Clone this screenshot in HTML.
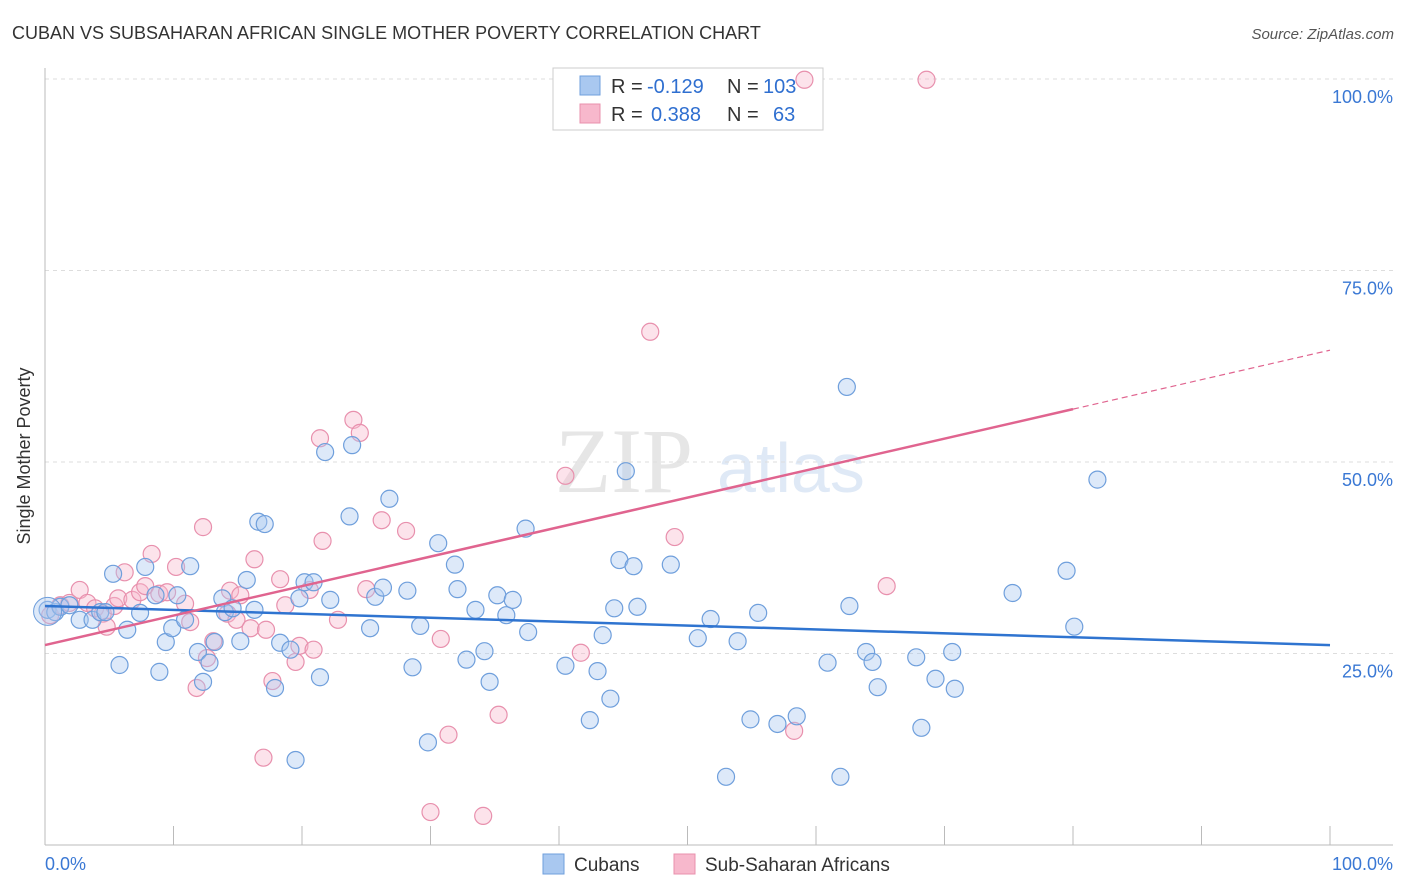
<!DOCTYPE html>
<html><head><meta charset="utf-8"><style>
body{margin:0;background:#fff;font-family:"Liberation Sans",sans-serif;}
svg{display:block}
</style></head><body>
<svg id="chart" width="1406" height="892">
<text x="12" y="39" font-size="18" fill="#333">CUBAN VS SUBSAHARAN AFRICAN SINGLE MOTHER POVERTY CORRELATION CHART</text>
<text x="1394" y="39" font-size="15" fill="#555" font-style="italic" text-anchor="end">Source: ZipAtlas.com</text>
<text x="30" y="456" font-size="18" fill="#333" text-anchor="middle" transform="rotate(-90 30 456)">Single Mother Poverty</text>
<g><text x="555" y="492" font-size="92" fill="#e6e6e6" font-family="Liberation Serif,serif">ZIP</text><text x="717" y="492" font-size="70" fill="#dfe9f6">atlas</text></g>
<g id="grid"></g><g id="axes"></g>
<g>
<rect x="553" y="68" width="270" height="62" fill="#fff" stroke="#ccc"/>
<rect x="580" y="76" width="20" height="19" fill="#a9c8f0" stroke="#6f9fdc"/>
<rect x="580" y="104" width="20" height="19" fill="#f7b8cc" stroke="#e890ad"/>
<text x="611" y="93" font-size="20" fill="#333">R =</text>
<text x="647" y="93" font-size="20" fill="#2f6fd0">-0.129</text>
<text x="727" y="93" font-size="20" fill="#333">N =</text>
<text x="763" y="93" font-size="20" fill="#2f6fd0">103</text>
<text x="611" y="121" font-size="20" fill="#333">R =</text>
<text x="651" y="121" font-size="20" fill="#2f6fd0">0.388</text>
<text x="727" y="121" font-size="20" fill="#333">N =</text>
<text x="773" y="121" font-size="20" fill="#2f6fd0">63</text>
</g>
<g id="pts"></g><g id="lines"></g>
<g>
<rect x="543" y="854" width="21" height="20" fill="#a9c8f0" stroke="#6f9fdc"/>
<text x="574" y="871" font-size="19" fill="#333">Cubans</text>
<rect x="674" y="854" width="21" height="20" fill="#f7b8cc" stroke="#e890ad"/>
<text x="705" y="871" font-size="19" fill="#333">Sub-Saharan Africans</text>
</g>
</svg>
<script>
const yTicks=[25,50,75,100];
const yTickLabels=["25.0%","50.0%","75.0%","100.0%"];
const blueX=[0.2,0.8,1.2,1.9,2.7,3.7,4.3,4.7,5.3,5.8,6.4,7.4,7.8,8.6,8.9,9.4,9.9,10.3,10.9,11.3,11.9,12.3,12.8,13.2,13.8,14.0,14.6,15.2,15.7,16.3,16.6,17.1,17.9,18.3,19.1,19.5,19.8,20.2,20.9,21.4,21.8,22.2,23.7,23.9,25.3,25.7,26.3,26.8,28.2,28.6,29.2,29.8,30.6,31.9,32.1,32.8,33.5,34.2,34.6,35.2,35.9,36.4,37.4,37.6,40.5,42.4,43.0,43.4,44.0,44.3,44.7,45.2,45.8,46.1,48.7,50.8,51.8,53.0,53.9,54.9,55.5,57.0,58.5,60.9,61.9,62.4,62.6,63.9,64.4,64.8,67.8,68.2,69.3,70.6,70.8,75.3,79.5,80.1,81.9];
const blueY=[30.7,30.4,31.1,31.3,29.4,29.4,30.4,30.4,35.4,23.5,28.1,30.3,36.3,32.6,22.6,26.5,28.3,32.6,29.4,36.4,25.2,21.3,23.8,26.5,32.2,30.4,30.9,26.6,34.6,30.7,42.2,41.9,20.5,26.4,25.5,11.1,32.2,34.3,34.3,21.9,51.3,32.0,42.9,52.2,28.3,32.4,33.6,45.2,33.2,23.2,28.6,13.4,39.4,36.6,33.4,24.2,30.7,25.3,21.3,32.6,30.0,32.0,41.3,27.8,23.4,16.3,22.7,27.4,19.1,30.9,37.2,48.8,36.4,31.1,36.6,27.0,29.5,8.9,26.6,16.4,30.3,15.8,16.8,23.8,8.9,59.8,31.2,25.2,23.9,20.6,24.5,15.3,21.7,25.2,20.4,32.9,35.8,28.5,47.7];
const pinkX=[0.4,1.2,1.9,2.7,3.3,3.9,4.5,4.8,5.4,5.7,6.2,6.8,7.4,7.8,8.3,8.9,9.5,10.2,10.9,11.3,11.8,12.3,12.6,13.1,14.2,14.4,14.9,15.2,16.0,16.3,17.2,17.7,18.3,18.7,19.5,19.8,20.6,20.9,21.4,21.6,22.8,24.0,24.5,25.0,26.2,28.1,30.0,30.8,31.4,34.1,35.3,40.5,41.7,47.1,49.0,58.3,59.1,65.5,68.6,17.0];
const pinkY=[30.0,31.3,31.6,33.3,31.6,30.9,30.2,28.5,31.2,32.2,35.6,32.0,33.0,33.8,38.0,32.8,33.0,36.3,31.5,29.1,20.5,41.5,24.4,26.6,30.2,33.2,29.4,32.6,28.3,37.3,28.1,21.4,34.7,31.3,23.9,26.0,33.3,25.5,53.1,39.7,29.4,55.5,53.8,33.4,42.4,41.0,4.3,26.9,14.4,3.8,17.0,48.2,25.1,67.0,40.2,14.9,99.9,33.8,99.9,11.4];
const blueTrend=[31.2,26.1];
const pinkTrend=[26.1,64.6];
const pinkSolidEnd=80;
const NS="http://www.w3.org/2000/svg";
const X=v=>45+v*12.85, Y=v=>845-v*7.66;
function mk(tag,attrs,parent){const e=document.createElementNS(NS,tag);for(const k in attrs)e.setAttribute(k,attrs[k]);document.getElementById(parent).appendChild(e);return e;}
yTicks.forEach((t,i)=>{
 const g=mk('line',{x1:45,x2:1393,y1:Y(t),y2:Y(t),stroke:'#ddd','stroke-dasharray':'4,4'},'grid');
 
 
 const l=mk('text',{x:1393,y:Y(t)+24,'font-size':18,fill:'#3a78d4','text-anchor':'end'},'grid');
 l.textContent=yTickLabels[i];
 
 
});
const ax=mk('line',{x1:45,x2:1393,y1:845,y2:845,stroke:'#bbb'},'axes');


const ay=mk('line',{x1:45,x2:45,y1:68,y2:845,stroke:'#bbb'},'axes');


for(let i=1;i<=10;i++){const t=mk('line',{x1:X(i*10),x2:X(i*10),y1:826,y2:845,stroke:'#bbb'},'axes');
 
 }
const x0=mk('text',{x:45,y:870,'font-size':18,fill:'#3a78d4'},'axes');x0.textContent='0.0%';


const x1=mk('text',{x:1393,y:870,'font-size':18,fill:'#3a78d4','text-anchor':'end'},'axes');x1.textContent='100.0%';


function pts(xs,ys,fill,stroke,name){xs.forEach((x,i)=>{const c=mk('circle',{cx:X(x),cy:Y(ys[i]),r:8.5,fill:fill,'fill-opacity':0.4,stroke:stroke,'stroke-width':1.2},'pts');
 
 });}
pts(pinkX,pinkY,'#f7b8cc','#e890ad','sub-saharan-point');
pts(blueX,blueY,'#a9c8f0','#6f9fdc','cuban-point');
const big=mk('circle',{cx:X(0.2),cy:Y(30.5),r:14,fill:'#a9c8f0','fill-opacity':0.4,stroke:'#6f9fdc'},'pts');


const bl=mk('line',{x1:X(0),y1:Y(blueTrend[0]),x2:X(100),y2:Y(blueTrend[1]),stroke:'#2f74d0','stroke-width':2.5},'lines');


const pe=pinkTrend[0]+(pinkTrend[1]-pinkTrend[0])*pinkSolidEnd/100;
const pl=mk('line',{x1:X(0),y1:Y(pinkTrend[0]),x2:X(pinkSolidEnd),y2:Y(pe),stroke:'#e0648f','stroke-width':2.5},'lines');


const pd=mk('line',{x1:X(pinkSolidEnd),y1:Y(pe),x2:X(100),y2:Y(pinkTrend[1]),stroke:'#e0648f','stroke-width':1.2,'stroke-dasharray':'6,4'},'lines');


</script>
</body></html>
